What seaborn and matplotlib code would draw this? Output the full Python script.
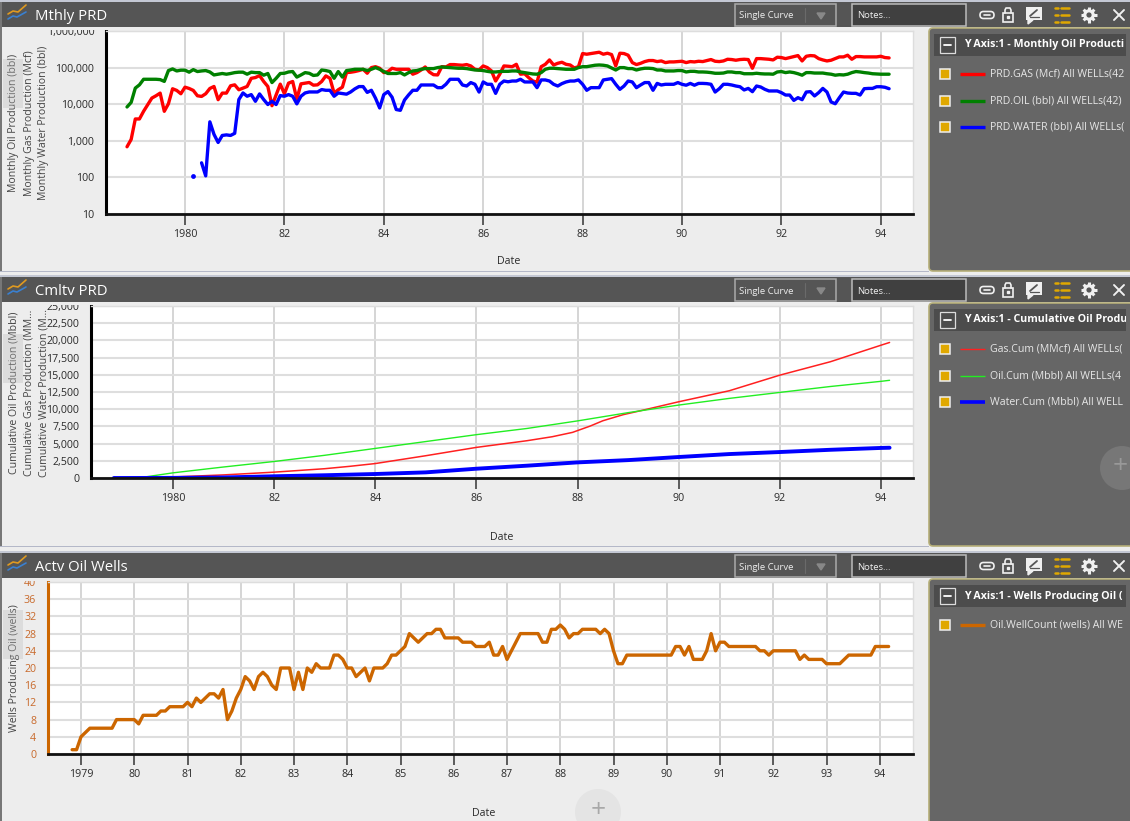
"""Three stacked production panels (monthly rates, cumulatives, well count)
laid out inside a dark dashboard frame."""
import matplotlib
matplotlib.use("Agg")
import matplotlib.pyplot as plt
from matplotlib.patches import Circle, FancyBboxPatch, Rectangle
from matplotlib.ticker import FuncFormatter
import numpy as np
import seaborn as sns

W, H = 1130, 821
START_YEAR = 1978 + 10 / 12  # first sample is Nov 1978

GAS_MONTHLY = [
    687, 1090, 3950, 3950, 6400, 9700, 14700, 17000, 20100, 6400, 10300, 26400,
    23800, 19300, 29200, 26900, 23800, 17000, 16300, 19300, 26900, 30500, 13300, 20100,
    20100, 31800, 33800, 24800, 27500, 30500, 51000, 53500, 60600, 41700, 30500, 9100,
    18100, 35300, 19300, 37600, 41700, 13800, 36000, 37600, 39200, 33100, 33800, 41700,
    59400, 51000, 20100, 24800, 29200, 73100, 74700, 78000, 83000, 90000, 70200, 100000,
    106000, 96000, 73100, 78000, 96000, 90000, 90000, 90000, 90000,
    66000, 73000, 86000, 104000, 76000, 64000, 63000, 106000, 104000, 121000, 121000, 118000,
    116000, 121000, 111000, 90000, 86000, 111000, 100000, 81000, 43000, 66000, 111000, 109000,
    106000, 123000, 66000, 68000, 53000, 43000, 40000, 106000, 123000, 162000, 118000, 131000,
    140000, 123000, 118000, 98000, 106000, 242000, 232000, 242000, 252000, 263000, 232000, 247000,
    227000, 111000, 247000, 242000, 218000, 137000, 121000, 131000, 146000, 156000, 156000, 146000,
    152000, 137000, 143000, 143000, 146000, 149000, 137000, 146000, 143000, 149000, 146000, 156000,
    166000, 149000, 146000, 152000, 169000, 166000, 159000, 166000, 169000, 166000, 96000, 176000,
    176000, 173000, 169000, 162000, 192000, 188000, 176000, 188000, 200000, 213000, 152000, 204000,
    213000, 209000, 176000, 162000, 152000, 159000, 176000, 196000, 196000, 218000, 169000, 200000,
    200000, 196000, 196000, 196000, 196000, 204000, 188000, 184000,
]
OIL_MONTHLY = [
    8400, 11200, 27500, 33800, 48000, 48000, 48000, 48000, 47000, 42000, 83000, 92000,
    81000, 85000, 85000, 75000, 88000, 78000, 81000, 83000, 76000, 63000, 66000, 69000,
    66000, 69000, 73000, 75000, 75000, 66000, 75000, 73000, 73000, 62000, 69000, 39000,
    51000, 69000, 70000, 76000, 78000, 55000, 63000, 73000, 70000, 61000, 63000, 86000,
    83000, 78000, 51000, 78000, 55000, 83000, 86000, 90000, 90000, 90000, 83000, 90000,
    100000, 90000, 78000, 69000, 69000, 69000, 73000, 63000, 73000,
    81000, 83000, 90000, 94000, 94000, 94000, 100000, 104000, 102000, 100000, 98000, 96000,
    96000, 94000, 90000, 86000, 85000, 83000, 79000, 76000, 76000, 78000, 79000, 79000,
    81000, 81000, 76000, 73000, 70000, 67000, 66000, 73000, 90000, 96000, 96000, 94000,
    92000, 90000, 90000, 90000, 100000, 106000, 106000, 111000, 116000, 118000, 116000, 111000,
    98000, 86000, 100000, 100000, 94000, 94000, 86000, 92000, 96000, 96000, 94000, 86000,
    86000, 81000, 81000, 81000, 83000, 83000, 76000, 79000, 79000, 76000, 76000, 75000,
    73000, 70000, 70000, 71000, 76000, 76000, 73000, 73000, 68000, 68000, 68000, 70000,
    68000, 67000, 67000, 66000, 76000, 78000, 73000, 76000, 73000, 68000, 62000, 73000,
    73000, 71000, 71000, 71000, 68000, 66000, 62000, 64000, 63000, 66000, 73000, 78000,
    76000, 73000, 71000, 68000, 67000, 66000, 66000, 66000,
]
# water has an isolated month, then a gap, then runs from month 18 onward
WATER_DOT_MONTH = 16
WATER_DOT_VALUE = 110
WATER_FIRST_MONTH = 18
WATER_MONTHLY = [
    250, 110, 3300, 1500, 900, 1400, 1450, 1400, 1600, 13400, 20300, 16500,
    18300, 12000, 19100, 13400, 9800, 12000, 9800, 17200, 16500, 18300, 16500, 10200,
    16500, 20300, 21600, 21600, 21600, 25100, 24000, 24000, 16500, 20300, 19500, 18800,
    21600, 26200, 30300, 30300, 21000, 24000, 14600, 7900, 18300, 22100, 15500, 7150,
    6800, 13000, 18000,
    24000, 24000, 33500, 33500, 33500, 33500, 28300, 28300, 35000, 48000, 48000, 48000,
    33500, 31400, 39000, 35000, 21500, 40500, 35000, 35000, 19800, 35000, 43000, 41000,
    43000, 43000, 48000, 40500, 40500, 40500, 28300, 46000, 46000, 43000, 35000, 31400,
    36500, 40500, 43000, 43000, 46000, 35000, 24000, 28300, 28300, 28300, 46000, 48000,
    50000, 35000, 25500, 31400, 43000, 40500, 28300, 33500, 39000, 39000, 24000, 37000,
    33500, 35000, 35000, 35000, 39000, 35000, 33000, 37000, 33000, 37000, 37000, 36500,
    35000, 21500, 26500, 35000, 35000, 33500, 31400, 30000, 24500, 27000, 22000, 31400,
    29500, 25500, 23000, 23000, 23000, 20700, 17800, 17800, 12700, 15100, 13300, 21500,
    22000, 16800, 20700, 27000, 21500, 11500, 10300, 15100, 21500, 20200, 19800, 19800,
    17800, 26500, 27000, 27000, 30000, 30000, 29000, 26500,
]

CUM_GAS_YEARS = [1978.83, 1979, 1980, 1981, 1982, 1983, 1983.5, 1984, 1985, 1986, 1987,
                 1987.5, 1987.9, 1988.25, 1988.5, 1988.9, 1989.3, 1990, 1991, 1992, 1993, 1994, 1994.17]
CUM_GAS = [0, 10, 150, 450, 850, 1350, 1700, 2100, 3240, 4450, 5420,
           6000, 6630, 7550, 8320, 9200, 9870, 11080, 12680, 14950, 16900, 19300, 19700]
CUM_YEARS = [1978.83, 1979, 1979.4, 1980, 1981, 1982, 1983, 1984, 1985, 1986, 1987,
             1988, 1989, 1990, 1991, 1992, 1993, 1994, 1994.17]
CUM_OIL = [0, 20, 100, 750, 1600, 2400, 3300, 4300, 5300, 6300, 7200,
           8300, 9500, 10600, 11570, 12440, 13300, 14050, 14200]
CUM_WATER = [0, 2, 8, 20, 80, 250, 400, 580, 820, 1350, 1790,
             2270, 2600, 3050, 3480, 3775, 4100, 4370, 4400]

WELL_COUNT = [
    1, 1,
    4, 5, 6, 6, 6, 6, 6, 6, 8, 8, 8, 8,
    8, 7, 9, 9, 9, 9, 10, 10, 11, 11, 11, 11,
    12, 11, 13, 12, 13, 14, 14, 13, 15, 8, 10, 13,
    15, 18, 17, 15, 18, 19, 18, 16, 15, 20, 20, 20,
    15, 19, 15, 20, 19, 21, 20, 20, 20, 23, 23, 22,
    20, 20, 18, 19, 20, 17, 20, 20, 20, 21, 23, 23,
    24, 25, 28, 27, 26, 27, 28, 28, 29, 29, 27, 27,
    27, 27, 26, 26, 26, 25, 25, 25, 26, 23, 23, 25,
    22, 24, 26, 28, 28, 28, 28, 28, 26, 26, 29, 29,
    30, 29, 27, 28, 28, 29, 29, 29, 29, 28, 29, 28,
    24, 21, 21, 23, 23, 23, 23, 23, 23, 23, 23, 23,
    23, 23, 25, 25, 23, 25, 22, 22, 22, 24, 28, 24,
    26, 26, 25, 25, 25, 25, 25, 25, 25, 24, 24, 23,
    24, 24, 24, 24, 24, 24, 22, 23, 22, 22, 22, 22,
    21, 21, 21, 21, 22, 23, 23, 23, 23, 23, 23, 25,
    25, 25, 25,
]

TICKS_TWO_YEAR = [1980, 1982, 1984, 1986, 1988, 1990, 1992, 1994]
LABELS_TWO_YEAR = ["1980", "82", "84", "86", "88", "90", "92", "94"]
TICKS_ONE_YEAR = list(range(1979, 1995))
LABELS_ONE_YEAR = ["1979"] + [str(y) for y in range(80, 95)]

BAR = "#555555"
PAGE = "#ededed"
SIDE = "#666666"
ORANGE = "#cc6600"
GOLD = "#e0a800"
TEXT = "#2a2a2a"

sns.set_theme(style="whitegrid")
plt.rcParams["font.family"] = ["Open Sans", "DejaVu Sans"]
FS = 7.7
FS_SMALL = 7.6


def months(values, first=0):
    return START_YEAR + (first + np.arange(len(values))) / 12


def make_axes(fig, left, right, top, bottom, tick0_year, tick0_px, px_per_year, spine_color="black"):
    ax = fig.add_axes([left / W, 1 - bottom / H, (right - left) / W, (bottom - top) / H])
    ax.set_facecolor("white")
    ax.set_xlim(tick0_year + (left - tick0_px) / px_per_year, tick0_year + (right - tick0_px) / px_per_year)
    ax.grid(True, axis="y", color="#dedede", linewidth=1.5)
    ax.grid(True, axis="x", color="#d2d2d2", linewidth=1.3)
    ax.set_axisbelow(True)
    for side in ("top", "right"):
        ax.spines[side].set_color("#dddddd")
        ax.spines[side].set_linewidth(1.0)
    ax.spines["bottom"].set_color("#111111")
    ax.spines["bottom"].set_linewidth(2.0)
    ax.spines["left"].set_color(spine_color)
    ax.spines["left"].set_linewidth(2.2)
    ax.tick_params(axis="x", bottom=True, length=8, width=1.1, color="#333333", pad=3, labelsize=FS, labelcolor=TEXT)
    ax.tick_params(axis="y", which="both", left=False, pad=2.5, labelsize=FS, labelcolor=TEXT)
    ax.set_xlabel("")
    ax.set_ylabel("")
    return ax


def line(ax, x, y, color, lw):
    sns.lineplot(x=x, y=y, ax=ax, color=color, linewidth=lw, estimator=None, sort=False)
    ax.set_xlabel("")
    ax.set_ylabel("")


fig = plt.figure(figsize=(W / 100, H / 100), dpi=100, facecolor=PAGE)

# monthly rates
ax1 = make_axes(fig, 106, 913, 31, 214, 1980, 185, 49.7)
ax1.set_yscale("log")
ax1.set_ylim(10, 1000000)
line(ax1, months(GAS_MONTHLY), GAS_MONTHLY, "#ff0000", 2.4)
line(ax1, months(OIL_MONTHLY), OIL_MONTHLY, "#008000", 2.4)
line(ax1, months(WATER_MONTHLY, WATER_FIRST_MONTH), WATER_MONTHLY, "#0000ff", 2.4)
sns.scatterplot(x=months([WATER_DOT_VALUE], WATER_DOT_MONTH), y=[WATER_DOT_VALUE], ax=ax1,
                color="#0000ff", s=12, linewidth=0)
ax1.set_yticks([10, 100, 1000, 10000, 100000, 1000000])
ax1.minorticks_off()
ax1.yaxis.set_major_formatter(FuncFormatter(lambda v, _: f"{int(v):,}"))
ax1.set_xticks(TICKS_TWO_YEAR, LABELS_TWO_YEAR)

# cumulatives
ax2 = make_axes(fig, 91, 913, 306, 478, 1980, 173, 50.57)
ax2.set_ylim(0, 25000)
line(ax2, CUM_GAS_YEARS, CUM_GAS, "#ff2020", 1.1)
line(ax2, CUM_YEARS, CUM_OIL, "#22ee22", 1.0)
line(ax2, CUM_YEARS, CUM_WATER, "#0000ff", 2.8)
ax2.set_yticks(np.arange(0, 25001, 2500))
ax2.yaxis.set_major_formatter(FuncFormatter(lambda v, _: f"{int(v):,}"))
ax2.set_xticks(TICKS_TWO_YEAR, LABELS_TWO_YEAR)

# well count
ax3 = make_axes(fig, 48, 913, 582, 754, 1979, 81, 53.25, spine_color=ORANGE)
ax3.set_ylim(0, 40)
line(ax3, months(WELL_COUNT), WELL_COUNT, ORANGE, 2.4)
ax3.set_yticks(np.arange(0, 41, 4))
ax3.tick_params(axis="y", labelcolor="#c8692a")
ax3.set_xticks(TICKS_ONE_YEAR, LABELS_ONE_YEAR)

# dashboard chrome on a pixel-coordinate overlay
ov = fig.add_axes([0, 0, 1, 1], facecolor="none")
ov.set_xlim(0, W)
ov.set_ylim(H, 0)
ov.axis("off")
ov.grid(False)


def rect(x0, y0, x1, y1, fc, ec="none", lw=0, z=2, alpha=None):
    ov.add_patch(Rectangle((x0, y0), x1 - x0, y1 - y0, fc=fc, ec=ec, lw=lw, zorder=z, alpha=alpha))


def toolbar(y0):
    cy = y0 + 13
    ov.plot([8, 13, 18, 26], [cy - 1, cy - 4, cy - 3, cy - 10], color="#e09a20", lw=1.2, zorder=4)
    ov.plot([8, 13, 17, 26], [cy + 4, cy + 1, cy + 2, cy - 3], color="#3a80d0", lw=1.2, zorder=4)
    rect(735, cy - 11, 836, cy + 11, "none", ec="#aaaaaa", lw=1.1, z=4)
    ov.text(739, cy + 1, "Single Curve", color="#eeeeee", fontsize=6.8, va="center", zorder=4)
    ov.plot([805, 805], [cy - 7, cy + 7], color="#6a6a6a", lw=0.8, zorder=4)
    ov.fill([817, 825, 821], [cy - 2, cy - 2, cy + 4], color="#888888", zorder=4)
    rect(852, cy - 11, 966, cy + 11, "#404040", ec="#bbbbbb", lw=1.1, z=4)
    ov.text(857, cy + 1, "Notes...", color="#eeeeee", fontsize=6.8, va="center", zorder=4)
    # link
    ov.add_patch(FancyBboxPatch((980, cy - 3.5), 14, 7, boxstyle="round,pad=0,rounding_size=3.5", fc="none",
                                ec="#f0f0f0", lw=1.2, zorder=4))
    ov.plot([984, 990], [cy, cy], color="#f0f0f0", lw=1.2, zorder=5)
    # lock
    rect(1003, cy - 2, 1013, cy + 7, "none", ec="#f0f0f0", lw=1.2, z=4)
    ov.plot([1005, 1005, 1006, 1010, 1011, 1011], [cy - 2, cy - 5, cy - 7, cy - 7, cy - 5, cy - 2],
            color="#f0f0f0", lw=1.2, zorder=4)
    ov.plot([1008], [cy + 2], "s", color="#f0f0f0", ms=1.8, zorder=4)
    # comment
    rect(1026, cy - 8, 1042, cy + 5, "#f0f0f0", z=4)
    ov.fill([1028, 1033, 1028], [cy + 5, cy + 5, cy + 9], color="#f0f0f0", zorder=4)
    ov.plot([1030, 1037], [cy + 1, cy - 5], color=BAR, lw=1.3, zorder=5)
    ov.plot([1030, 1039], [cy + 2, cy + 2], color=BAR, lw=0.9, zorder=5)
    # list toggle
    for dy in (-7, 0, 7):
        ov.plot([1055, 1058], [cy + dy, cy + dy], color=GOLD, lw=1.8, zorder=4)
        ov.plot([1061, 1069], [cy + dy, cy + dy], color=GOLD, lw=1.8, zorder=4)
    # gear
    ov.add_patch(Circle((1089, cy), 5.8, fc="#f0f0f0", ec="none", zorder=4))
    for a in np.deg2rad(np.arange(0, 360, 45)):
        ov.plot([1089, 1089 + 7.6 * np.cos(a)], [cy, cy + 7.6 * np.sin(a)], color="#f0f0f0",
                lw=2.2, solid_capstyle="butt", zorder=4)
    ov.add_patch(Circle((1089, cy), 2.6, fc=BAR, ec="none", zorder=5))
    # close
    ov.plot([1114, 1124], [cy - 5, cy + 5], color="#f0f0f0", lw=1.4, zorder=4)
    ov.plot([1114, 1124], [cy + 5, cy - 5], color="#f0f0f0", lw=1.4, zorder=4)


def side_panel(y_top, y_bottom, header_y, header, rows):
    ov.add_patch(FancyBboxPatch((929, y_top), 205, y_bottom - y_top, boxstyle="round,pad=0,rounding_size=4",
                                fc=SIDE, ec="#b5ae78", lw=1.2, zorder=2, mutation_aspect=1))
    clip = Rectangle((934, y_top), 192, y_bottom - y_top, transform=ov.transData)
    rect(934, header_y - 12, 1126, header_y + 10, "#4c4c4c", z=3)
    rect(940, header_y - 9, 955, header_y + 7, "none", ec="#dddddd", lw=0.9, z=4)
    ov.plot([944, 951], [header_y - 1, header_y - 1], color="white", lw=1.3, zorder=4)
    t = ov.text(964, header_y - 1, header, color="white", fontsize=7.7, fontweight="bold", va="center", zorder=4)
    t.set_clip_path(clip)
    t.set_clip_on(True)
    for row_y, label, color, lw in rows:
        rect(940, row_y - 5, 950, row_y + 5, GOLD, ec="#eeeeee", lw=1.1, z=4)
        ov.plot([960, 985], [row_y, row_y], color=color, lw=lw, zorder=4, solid_capstyle="butt")
        t = ov.text(990, row_y, label, color="#e6e6e6", fontsize=7.6, va="center", zorder=4)
        t.set_clip_path(clip)
        t.set_clip_on(True)


PANELS = [
    (2, 27, 271, "Mthly PRD"),
    (277, 302, 546, "Cmltv PRD"),
    (553, 578, 830, "Actv Oil Wells"),
]
for y0, y1, y_end, title in PANELS:
    rect(0, y0 - 2, W, y0, "#c4c8d4", z=1)
    rect(0, y0, W, y1, BAR)
    rect(0, y0, 2, y_end, "#777777")
    ov.text(35, (y0 + y1) / 2 + 2, title, color="white", fontsize=10.7, va="center", zorder=4)
    toolbar(y0)
    # labels are cut off where the plot area begins
    rect(2, y1, 928, y1 + 3.5, PAGE)
    rect(0, y_end, 929, y_end + 1.5, "#b4b8c8", z=1)

# header and row labels are as long as the narrow side panel shows them
side_panel(28, 271, 46, "Y Axis:1 - Monthly Oil Producti", [
    (74, "PRD.GAS (Mcf) All WELLs(42", "#ff0000", 2.4),
    (101, "PRD.OIL (bbl) All WELLs(42)", "#008000", 2.4),
    (127, "PRD.WATER (bbl) All WELLs(", "#0000ff", 2.4),
])
side_panel(303, 546, 321, "Y Axis:1 - Cumulative Oil Produ", [
    (349, "Gas.Cum (MMcf) All WELLs(", "#ff2020", 1.0),
    (376, "Oil.Cum (Mbbl) All WELLs(4", "#22ee22", 1.0),
    (402, "Water.Cum (Mbbl) All WELL", "#0000ff", 2.6),
])
side_panel(579, 830, 597, "Y Axis:1 - Wells Producing Oil (", [
    (625, "Oil.WellCount (wells) All WE", ORANGE, 2.4),
])

# y axis titles
Y_TITLES = [
    (14, 123, "Monthly Oil Production (bbl)"),
    (29.5, 123, "Monthly Gas Production (Mcf)"),
    (44, 123, "Monthly Water Production (bbl)"),
    (14, 393, "Cumulative Oil Production (Mbbl)"),
    (29.5, 393, "Cumulative Gas Production (MM..."),
    (44, 393, "Cumulative Water Production (M..."),
    (15, 668, "Wells Producing Oil (wells)"),
]
for x, y, label in Y_TITLES:
    ov.text(x, y, label, rotation=90, color="#444444", fontsize=FS_SMALL, ha="center", va="center", zorder=3)
for tab_y in (59, 334, 610):
    rect(3, tab_y, 23, tab_y + 49, "#bdbdbd", z=4, alpha=0.35)

for x, y in ((509, 262), (502, 537), (484, 813)):
    ov.text(x, y, "Date", color=TEXT, fontsize=FS, ha="center", va="center", zorder=3)

# floating add buttons
ov.add_patch(Circle((598, 812), 23, fc="#e4e4e4", ec="none", zorder=2))
ov.text(598, 811, "+", color="#a8a8a8", fontsize=19, ha="center", va="center", zorder=3)
ov.add_patch(Circle((1122, 468), 22, fc="#777777", ec="none", zorder=3))
ov.text(1120, 467, "+", color="#999999", fontsize=19, ha="center", va="center", zorder=4)

fig.savefig("out.png", dpi=100, facecolor=fig.get_facecolor())
plt.close(fig)
